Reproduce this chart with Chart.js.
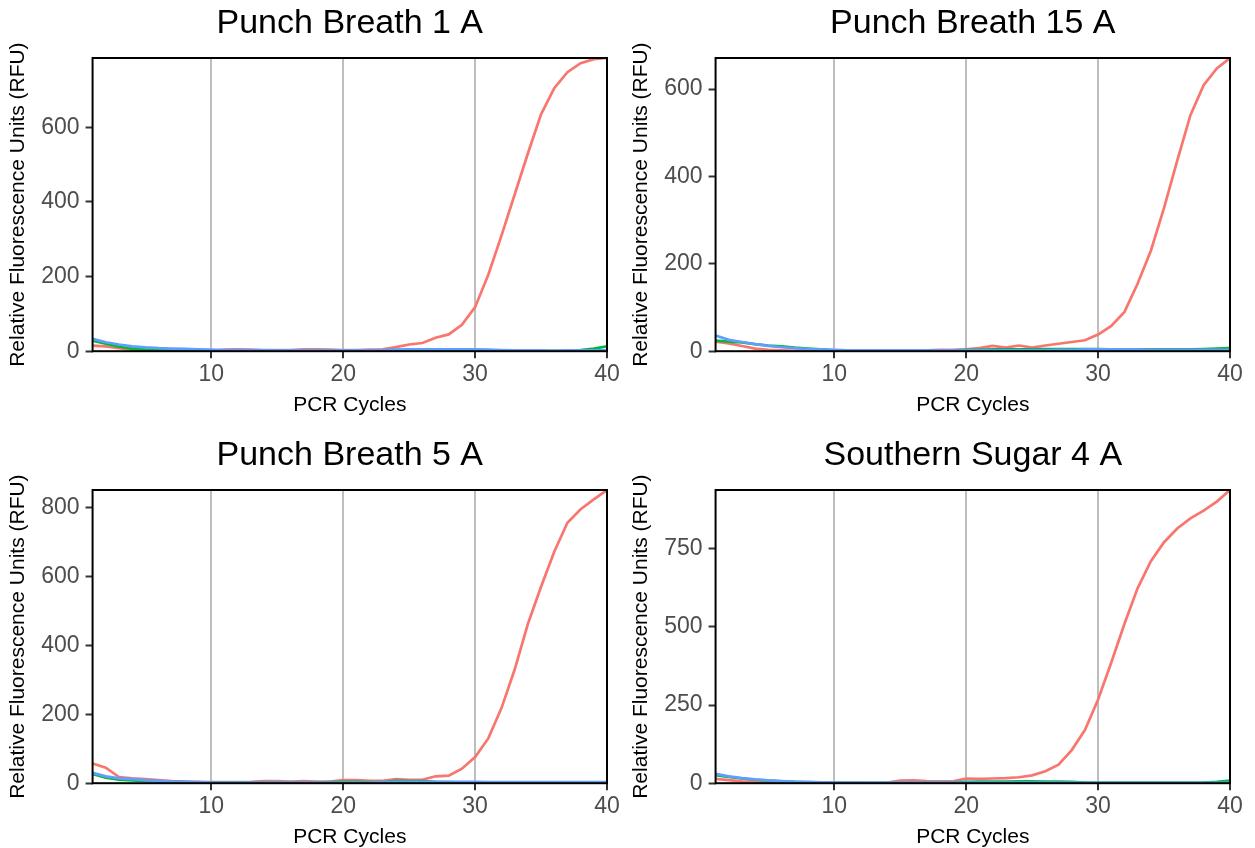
<!DOCTYPE html>
<html>
<head>
<meta charset="utf-8">
<script src="https://cdn.jsdelivr.net/npm/chart.js@4.4.0/dist/chart.umd.min.js"></script>
<style>
  body { margin: 0; background: #fff; overflow: hidden; }
  .panel { position: absolute; width: 627px; height: 418px; }
</style>
</head>
<body>
<div class="panel" style="left:0;top:0"><canvas id="c1" width="627" height="418"></canvas></div>
<div class="panel" style="left:623px;top:0"><canvas id="c2" width="627" height="418"></canvas></div>
<div class="panel" style="left:0;top:432px"><canvas id="c3" width="627" height="418"></canvas></div>
<div class="panel" style="left:623px;top:432px"><canvas id="c4" width="627" height="418"></canvas></div>
<script>
// qPCR amplification curves, 4 samples

const cycles = [1,2,3,4,5,6,7,8,9,10,11,12,13,14,15,16,17,18,19,20,
                21,22,23,24,25,26,27,28,29,30,31,32,33,34,35,36,37,38,39,40];
const xTicks = [10, 20, 30, 40];

// Punch Breath 1 A
const pb1Red   = [15,13,8,4,2,1,1,1,1,1,4,5,4,2,3,3,5,5,4,3,3,4,5,11,18,22,36,45,71,118,205,310,420,530,635,705,748,772,783,786];
const pb1Green = [28,20,12,7,4,3,2,2,1,1,1,1,1,1,1,1,1,1,1,1,1,2,2,3,3,3,3,3,3,3,1,1,1,1,1,1,1,3,7,13];
const pb1Blue  = [33,24,18,13,10,8,7,6,5,4,3,3,3,3,2,2,2,2,2,2,2,2,3,4,5,5,5,5,5,5,4,3,2,2,2,1,2,2,2,2];
const pb1YTicks = [0, 200, 400, 600];

// Punch Breath 15 A
const pb15Red   = [22,18,12,6,3,2,1,1,1,1,1,0,0,0,0,1,2,3,3,4,7,12,8,13,8,13,17,21,25,38,58,90,155,230,328,436,540,609,647,671];
const pb15Green = [24,22,20,16,13,11,8,6,4,2,2,1,1,1,1,1,1,2,2,3,3,4,4,4,4,5,5,5,5,5,4,4,4,4,4,4,4,5,6,7];
const pb15Blue  = [36,26,21,16,12,9,7,5,4,3,2,2,2,2,2,2,2,2,2,2,2,2,2,2,2,2,3,3,4,4,4,4,4,3,3,3,3,3,3,3];
const pb15YTicks = [0, 200, 400, 600];

// Punch Breath 5 A
const pb5Red   = [57,45,18,14,12,9,6,5,4,3,3,3,4,6,6,5,6,5,5,9,9,7,7,12,10,10,20,22,42,76,130,218,330,462,570,672,756,795,824,851];
const pb5Green = [27,16,10,8,6,5,4,3,2,2,2,2,2,2,2,2,2,2,3,4,4,3,3,7,6,6,4,3,2,2,2,2,2,2,2,2,2,2,2,2];
const pb5Blue  = [30,20,14,12,9,7,5,4,3,2,2,2,2,2,2,2,2,2,2,2,2,2,3,4,4,4,4,4,4,4,3,3,3,3,3,3,3,3,3,3];
const pb5YTicks = [0, 200, 400, 600, 800];

// Southern Sugar 4 A
const ss4Red   = [14,10,6,4,3,2,2,2,1,1,1,1,0,2,8,9,7,6,6,15,14,15,16,19,25,38,59,106,170,268,386,510,624,710,771,815,847,872,901,938];
const ss4Green = [26,20,15,11,8,6,4,3,2,2,1,1,1,1,1,1,2,2,3,4,5,5,5,6,6,5,5,4,2,2,2,2,2,2,2,2,2,2,4,8];
const ss4Blue  = [30,22,16,12,9,7,5,4,3,2,2,2,2,2,2,2,2,2,2,2,2,2,2,2,2,2,2,2,1,1,1,1,1,1,1,1,1,1,1,1];
const ss4YTicks = [0, 250, 500, 750];

const titles = ['Punch Breath 1 A', 'Punch Breath 15 A', 'Punch Breath 5 A', 'Southern Sugar 4 A'];

const RED = '#F8766D', GREEN = '#00BA38', BLUE = '#619CFF';
const FONT = "'Liberation Sans', Arial, sans-serif";
Chart.defaults.font.family = FONT;

// title centred over the plot panel, like ggplot
const panelTitle = {
  id: 'panelTitle',
  afterDraw(chart, args, opts) {
    const ctx = chart.ctx;
    const a = chart.chartArea;
    ctx.save();
    ctx.font = '34px ' + FONT;
    ctx.fillStyle = '#000';
    ctx.textAlign = 'center';
    ctx.textBaseline = 'middle';
    ctx.fillText(opts.text, (a.left + a.right) / 2, opts.y);
    ctx.restore();
  }
};

// black panel border
const panelBorder = {
  id: 'panelBorder',
  afterDatasetsDraw(chart) {
    const ctx = chart.ctx;
    const a = chart.chartArea;
    ctx.save();
    ctx.strokeStyle = '#000';
    ctx.lineWidth = 2;
    ctx.strokeRect(a.left, a.top, a.right - a.left, a.bottom - a.top);
    ctx.restore();
  }
};

function line(data, color, order) {
  return {
    data: data,
    borderColor: color,
    borderWidth: 2.7,
    pointRadius: 0,
    tension: 0,
    fill: false,
    order: order
  };
}

function makePanel(id, title, red, green, blue, yTicks) {
  const yMax = Math.max(...red, ...green, ...blue);
  new Chart(document.getElementById(id), {
    type: 'line',
    data: {
      labels: cycles,
      datasets: [line(red, RED, 2), line(green, GREEN, 1), line(blue, BLUE, 0)]
    },
    options: {
      responsive: false,
      animation: false,
      layout: { padding: { top: 58, right: 20, bottom: 0, left: 0 } },
      plugins: {
        legend: { display: false },
        tooltip: { enabled: false },
        panelTitle: { text: title, y: 24 }
      },
      scales: {
        x: {
          type: 'linear',
          min: 1,
          max: 40,
          afterBuildTicks: s => { s.ticks = xTicks.map(v => ({ value: v })); },
          border: { display: false },
          grid: { color: '#bebebe', lineWidth: 2, tickColor: '#333', tickWidth: 2, tickLength: 7 },
          ticks: { color: '#4d4d4d', font: { size: 23 }, padding: 3, maxRotation: 0 },
          title: { display: true, text: 'PCR Cycles', color: '#000', font: { size: 21 }, padding: { top: 1, bottom: 0 } }
        },
        y: {
          min: 0,
          max: yMax,
          afterBuildTicks: s => { s.ticks = yTicks.map(v => ({ value: v })); },
          border: { display: false },
          grid: { drawOnChartArea: false, tickColor: '#333', tickWidth: 2, tickLength: 7 },
          ticks: { color: '#4d4d4d', font: { size: 23 }, padding: 6 },
          title: { display: true, text: 'Relative Fluorescence Units (RFU)', color: '#000', font: { size: 21 }, padding: { top: 6, bottom: 4 } }
        }
      }
    },
    plugins: [panelTitle, panelBorder]
  });
}

makePanel('c1', titles[0], pb1Red, pb1Green, pb1Blue, pb1YTicks);
makePanel('c2', titles[1], pb15Red, pb15Green, pb15Blue, pb15YTicks);
makePanel('c3', titles[2], pb5Red, pb5Green, pb5Blue, pb5YTicks);
makePanel('c4', titles[3], ss4Red, ss4Green, ss4Blue, ss4YTicks);
</script>
</body>
</html>
